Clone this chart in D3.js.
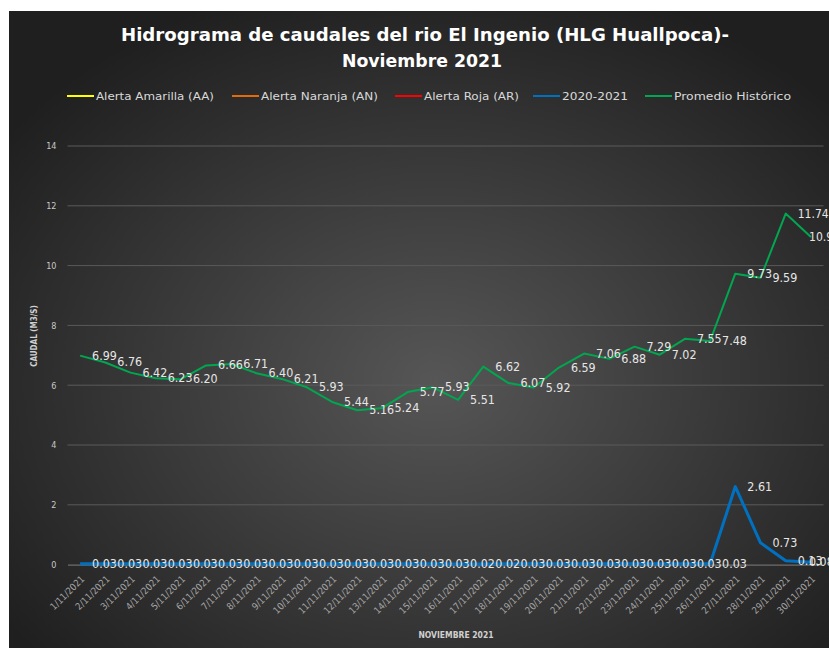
<!DOCTYPE html>
<html>
<head>
<meta charset="utf-8">
<script src="https://cdn.jsdelivr.net/npm/d3@7"></script>
<style>
  html, body { margin: 0; padding: 0; background: #ffffff; }
  svg { display: block; }
  text { font-family: "Liberation Sans Narrow", "DejaVu Sans Condensed", "Open Sans", sans-serif; }
</style>
</head>
<body>
<div id="chart"></div>
<script>
// Days of November 2021 (category axis)
const days = ['1/11/2021', '2/11/2021', '3/11/2021', '4/11/2021', '5/11/2021', '6/11/2021',
    '7/11/2021', '8/11/2021', '9/11/2021', '10/11/2021', '11/11/2021', '12/11/2021',
    '13/11/2021', '14/11/2021', '15/11/2021', '16/11/2021', '17/11/2021', '18/11/2021',
    '19/11/2021', '20/11/2021', '21/11/2021', '22/11/2021', '23/11/2021', '24/11/2021',
    '25/11/2021', '26/11/2021', '27/11/2021', '28/11/2021', '29/11/2021', '30/11/2021'];

// Caudal 2020-2021 (m3/s)
const caudal2021 = [0.03, 0.03, 0.03, 0.03, 0.03, 0.03, 0.03, 0.03, 0.03, 0.03,
    0.03, 0.03, 0.03, 0.03, 0.03, 0.02, 0.02, 0.03, 0.03, 0.03,
    0.03, 0.03, 0.03, 0.03, 0.03, 0.03, 2.61, 0.73, 0.13, 0.08];

// Promedio historico (m3/s)
const promedio = [6.99, 6.76, 6.42, 6.23, 6.20, 6.66, 6.71, 6.40, 6.21, 5.93,
    5.44, 5.16, 5.24, 5.77, 5.93, 5.51, 6.62, 6.07, 5.92, 6.59,
    7.06, 6.88, 7.29, 7.02, 7.55, 7.48, 9.73, 9.59, 11.74, 10.96];

// Alert thresholds: no values plotted in this month
const alertaAmarilla = [];
const alertaNaranja = [];
const alertaRoja = [];

const yTicks = [0, 2, 4, 6, 8, 10, 12, 14];

const legendItems = [
    { name: 'Alerta Amarilla (AA)', color: '#ffff00', x: 67, tw: 118 },
    { name: 'Alerta Naranja (AN)', color: '#e36c09', x: 232, tw: 117 },
    { name: 'Alerta Roja (AR)', color: '#ff0000', x: 395, tw: 95 },
    { name: '2020-2021', color: '#0070c0', x: 533, tw: 66 },
    { name: 'Promedio Histórico', color: '#00a650', x: 645, tw: 117 }
];

const width = 829, height = 648;
const plot = { left: 67.5, right: 823.5, top: 146, bottom: 564.6 };
const labelMaxX = 809; // labels are kept inside the chart area

const svg = d3.select('#chart').append('svg')
    .attr('width', width)
    .attr('height', height);

// Background gradient
const defs = svg.append('defs');
const grad = defs.append('radialGradient')
    .attr('id', 'bg')
    .attr('cx', '52%').attr('cy', '58%').attr('r', '65%');
grad.append('stop').attr('offset', '0%').attr('stop-color', '#565656');
grad.append('stop').attr('offset', '100%').attr('stop-color', '#1f1f1f');

svg.append('rect')
    .attr('x', 9).attr('y', 11)
    .attr('width', width - 9).attr('height', height - 11)
    .attr('fill', 'url(#bg)');

// Scales
const x = d3.scaleBand()
    .domain(days)
    .range([plot.left, plot.right]);
const xc = d => x(d) + x.bandwidth() / 2;

const y = d3.scaleLinear()
    .domain([0, 14])
    .range([plot.bottom, plot.top]);

// Gridlines
svg.append('g')
    .selectAll('line')
    .data(yTicks.filter(t => t > 0))
    .join('line')
    .attr('x1', plot.left).attr('x2', plot.right)
    .attr('y1', d => y(d)).attr('y2', d => y(d))
    .attr('stroke', '#5a5a5a')
    .attr('stroke-width', 1);

// Y axis (labels only)
const yAxis = svg.append('g')
    .attr('transform', `translate(${plot.left - 9},0)`)
    .call(d3.axisLeft(y).tickValues(yTicks).tickSize(0).tickPadding(2));
yAxis.select('.domain').remove();
yAxis.selectAll('text')
    .attr('fill', '#c8c8c8')
    .attr('font-size', '9px')
    .style('font-family', '"Liberation Sans Narrow", "DejaVu Sans Condensed", sans-serif');

// X axis
const xAxis = svg.append('g')
    .attr('transform', `translate(0,${plot.bottom})`)
    .call(d3.axisBottom(x).tickSize(0).tickPadding(0));
xAxis.select('.domain')
    .attr('stroke', '#7f7f7f')
    .attr('stroke-width', 1);
xAxis.selectAll('text')
    .attr('fill', '#a6a6a6')
    .attr('font-size', '9.5px')
    .attr('text-anchor', 'end')
    .attr('dy', 0)
    .attr('transform', 'translate(5,15) rotate(-45)')
    .style('font-family', '"Liberation Sans Narrow", "DejaVu Sans Condensed", sans-serif');

// Axis titles
svg.append('text')
    .attr('transform', `translate(37,336) rotate(-90)`)
    .attr('text-anchor', 'middle')
    .attr('fill', '#d0d0d0')
    .attr('font-size', '8px')
    .attr('font-weight', 'bold')
    .text('CAUDAL (M3/S)');

svg.append('text')
    .attr('x', 456).attr('y', 638)
    .attr('text-anchor', 'middle')
    .attr('fill', '#d0d0d0')
    .attr('font-size', '8.5px')
    .attr('font-weight', 'bold')
    .text('NOVIEMBRE 2021');

// Lines
const line = d3.line()
    .defined(d => d.v != null)
    .x(d => xc(d.day))
    .y(d => y(d.v));

function drawSeries(values, color, strokeWidth) {
    if (!values.length) return;
    const data = values.map((v, i) => ({ day: days[i], v: v }));
    svg.append('path')
        .datum(data)
        .attr('fill', 'none')
        .attr('stroke', color)
        .attr('stroke-width', strokeWidth)
        .attr('stroke-linejoin', 'round')
        .attr('d', line);
    svg.append('g')
        .selectAll('text')
        .data(data)
        .join('text')
        .attr('x', d => Math.min(xc(d.day) + 12, labelMaxX))
        .attr('y', d => y(d.v))
        .attr('dominant-baseline', 'central')
        .attr('fill', '#e6e6e6')
        .attr('font-size', '11.5px')
        .attr('textLength', d => d.v.toFixed(2).length * 6.2)
        .attr('lengthAdjust', 'spacingAndGlyphs')
        .text(d => d.v.toFixed(2));
}

drawSeries(alertaAmarilla, '#ffff00', 2);
drawSeries(alertaNaranja, '#e36c09', 2);
drawSeries(alertaRoja, '#ff0000', 2);
drawSeries(promedio, '#00a650', 2);
drawSeries(caudal2021, '#0070c0', 3);

// Title
svg.append('text')
    .attr('x', 425).attr('y', 41)
    .attr('text-anchor', 'middle')
    .attr('fill', '#ffffff')
    .attr('font-size', '18px')
    .attr('font-weight', 'bold')
    .attr('textLength', 608)
    .attr('lengthAdjust', 'spacingAndGlyphs')
    .text('Hidrograma de caudales del rio El Ingenio (HLG Huallpoca)-');
svg.append('text')
    .attr('x', 422).attr('y', 67)
    .attr('text-anchor', 'middle')
    .attr('fill', '#ffffff')
    .attr('font-size', '18px')
    .attr('font-weight', 'bold')
    .attr('textLength', 160)
    .attr('lengthAdjust', 'spacingAndGlyphs')
    .text('Noviembre  2021');

// Legend
const legend = svg.append('g');
legendItems.forEach(item => {
    legend.append('line')
        .attr('x1', item.x).attr('x2', item.x + 27)
        .attr('y1', 96).attr('y2', 96)
        .attr('stroke', item.color)
        .attr('stroke-width', 2);
    legend.append('text')
        .attr('x', item.x + 29).attr('y', 96)
        .attr('dominant-baseline', 'central')
        .attr('fill', '#d9d9d9')
        .attr('font-size', '11px')
        .attr('textLength', item.tw)
        .attr('lengthAdjust', 'spacingAndGlyphs')
        .text(item.name);
});
</script>
</body>
</html>
